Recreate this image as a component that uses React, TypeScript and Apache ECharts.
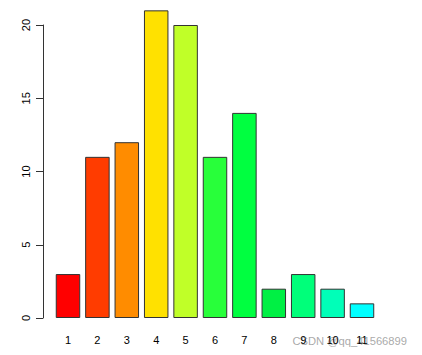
import React, { useEffect, useRef } from "react";
import * as echarts from "echarts";

const categories = ["1", "2", "3", "4", "5", "6", "7", "8", "9", "10", "11"];
const values = [3, 11, 12, 21, 20, 11, 14, 2, 3, 2, 1];
const barColors = [
  "#FF0000", "#FF3C00", "#FF8C00", "#FFE100", "#C0FF28", "#28FF3A",
  "#00FF40", "#00F044", "#00FF7A", "#00FFB8", "#00FFFF",
];
const yTicks = [0, 5, 10, 15, 20];

export default function App() {
  const ref = useRef<HTMLDivElement>(null);
  useEffect(() => {
    if (!ref.current) return;
    const chart = echarts.init(ref.current, undefined, { renderer: "svg" });
    chart.setOption({
      animation: false,
      backgroundColor: "#ffffff",
      grid: { left: 53.3, right: 422 - 376.7, top: 25, bottom: 37 },
      xAxis: {
        type: "category",
        data: categories,
        axisLine: { show: false },
        axisTick: { show: false },
        axisLabel: {
          margin: 16,
          color: "#000",
          fontSize: 11,
          fontFamily: "Liberation Sans, Arial, sans-serif",
        },
      },
      yAxis: {
        type: "value",
        min: yTicks[0],
        max: yTicks[yTicks.length - 1],
        interval: 5,
        offset: 10.3,
        splitLine: { show: false },
        axisLine: { show: true, lineStyle: { color: "#333", width: 1 } },
        axisTick: { show: true, length: 7, lineStyle: { color: "#333" } },
        axisLabel: {
          rotate: 90,
          margin: 12,
          color: "#000",
          fontSize: 11,
          fontFamily: "Liberation Sans, Arial, sans-serif",
        },
      },
      series: [
        {
          type: "bar",
          clip: false,
          barWidth: "83.3%",
          data: values.map((v, i) => ({
            value: v,
            itemStyle: { color: barColors[i] },
          })),
          itemStyle: { borderColor: "#333", borderWidth: 1 },
        },
      ],
      graphic: [
        {
          type: "text",
          right: 15,
          bottom: 9,
          style: {
            text: "CSDN @qq_41566899",
            fill: "rgba(140,140,140,0.75)",
            fontSize: 11.2,
            fontFamily: "Liberation Sans, Arial, sans-serif",
          },
        },
      ],
    });
    return () => chart.dispose();
  }, []);
  return <div ref={ref} style={{ width: 422, height: 355, margin: -8 }} />;
}
